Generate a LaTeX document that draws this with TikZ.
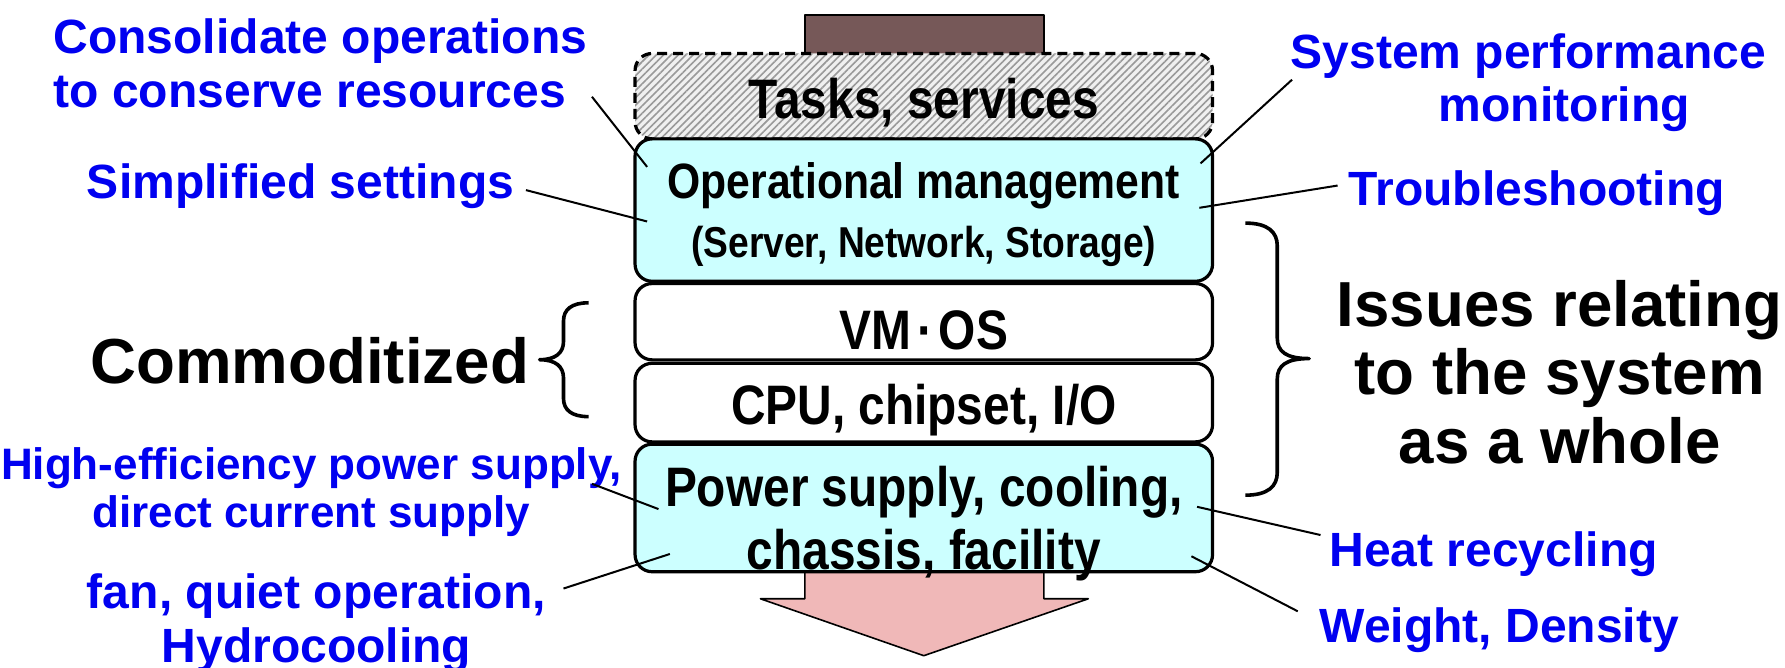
\documentclass[tikz,border=0pt]{standalone}
\usepackage{fontspec}
\setmainfont{Liberation Sans}
\usetikzlibrary{patterns.meta}
\definecolor{opcyan}{RGB}{204,255,255}
\definecolor{noteblue}{RGB}{0,0,240}
\definecolor{flowbrown}{RGB}{118,88,88}
\definecolor{flowpink}{RGB}{240,184,184}
\newcommand{\slim}[1]{\scalebox{0.86}[1]{#1}}

\begin{document}
\begin{tikzpicture}[x=0.01cm,y=-0.01cm,line join=round,
	    layer/.style={draw,line width=0.8pt,rounded corners=0.15cm,minimum width=5.07cm,
	                  align=center,inner sep=0pt,text depth=0pt,
	                  font=\fontsize{13.9}{14.2}\selectfont\bfseries},
	    ops/.style={layer,fill=opcyan},
	    plain/.style={layer,fill=white},
	    tasks/.style={layer,dash pattern=on 2.5pt off 1.5pt,preaction={fill=gray!12},
	                  pattern={Lines[angle=45,distance=1.3pt,line width=0.4pt]},pattern color=gray!80},
	    note/.style={text=noteblue,inner sep=0pt,align=center,font=\fontsize{12}{13.4}\selectfont\bfseries},
	    big/.style={inner sep=0pt,align=center,font=\fontsize{15.9}{17.1}\selectfont\bfseries},
	    pointer/.style={line width=0.5pt},
	    bracket/.style={line width=0.9pt}]
	  \useasboundingbox (0,0) rectangle (1568,586);

	  % the flow behind the layers
	  \draw[fill=flowbrown,line width=0.4pt] (707,13) rectangle (917,70);
	  \draw[fill=flowpink,line width=0.4pt] (707,480) -- (707,526) -- (668,526) -- (811.5,576)
	        -- (956,526) -- (917,526) -- (917,480) -- cycle;

	  % layers
	  \node[tasks,minimum height=0.75cm,text height=0.40cm]	(tasks) at (811.5,84.5)	{\slim{Tasks, services}};
	  \node[ops,minimum height=1.25cm,font=\fontsize{12.4}{14.5}\selectfont\bfseries]
	                   (oper) [below of=tasks,node distance=1cm]
	                   {\slim{Operational management}\\[0.4pt]{\fontsize{10.8}{13}\selectfont\slim{(Server, Network, Storage)}}};
	  \node[plain,minimum height=0.67cm,text height=0.48cm]	(vmos) [below of=oper,node distance=0.98cm]	{\slim{VM\kern0.12em·\kern0.12em OS}};
	  \node[plain,minimum height=0.69cm,text height=0.38cm]	(cpu) [below of=vmos,node distance=0.71cm]	{\slim{CPU, chipset, I/O}};
	  \node[ops,minimum height=1.12cm,text height=1.08cm]	(power) [below of=cpu,node distance=0.925cm]
	                   {\slim{Power supply, cooling,}\\[1.5pt]\slim{chassis, facility}};

	  % braces
	  \draw[bracket] (517,266) .. controls (502,266) and (495,272) .. (495,282) -- (495,300)
	        .. controls (495,310) and (488,316) .. (474,316) .. controls (488,316) and (495,322) .. (495,332)
	        -- (495,350) .. controls (495,360) and (502,366) .. (517,366);
	  \draw[bracket] (1094,196) .. controls (1114,196) and (1122,204) .. (1122,216) -- (1122,297)
	        .. controls (1122,309) and (1130,315) .. (1150,315) .. controls (1130,315) and (1122,321) .. (1122,333)
	        -- (1122,415) .. controls (1122,427) and (1114,435) .. (1094,435);
	  \node[big]	(comm) at (272,317)		{Commoditized};
	  \node[big]	(issues) at (1370,327)	{Issues relating\\to the system\\as a whole};

	  % notes
	  \node[note,align=left]	(cons) at (281.5,55.5)	{Consolidate operations\\to conserve resources};
	  \node[note]	(simp) at (264,164)		{Simplified settings};
	  \node[note]	(sysp) at (1342.5,72.5)	{System performance\\\hspace*{1.5em}monitoring};
	  \node[note]	(trbl) at (1350,170)		{Troubleshooting};
	  \node[note,font=\fontsize{11}{12}\selectfont\bfseries]
	                (heff) at (273.5,432)	{High-efficiency power supply,\\direct current supply};
	  \node[note]	(fan) at (278,547.5)		{fan, quiet operation,\\Hydrocooling};
	  \node[note]	(heat) at (1312,487)		{Heat recycling};
	  \node[note]	(wght) at (1317,554)		{Weight, Density};

	  \coordinate (cons-end) at (520,85);
	  \coordinate (simp-end) at (462,167);
	  \coordinate (sysp-end) at (1135,70);
	  \coordinate (trbl-end) at (1175,163);
	  \coordinate (heff-end) at (520,425);
	  \coordinate (fan-end) at (495,517);
	  \coordinate (heat-end) at (1160,470);
	  \coordinate (wght-end) at (1140,537);

	  \path[pointer] (cons-end)	edge ([shift={(12,26)}]oper.north west)
	  		(simp-end)	edge ([shift={(12,10)}]oper.west)
	  		(sysp-end)	edge ([shift={(-12,23)}]oper.north east)
	  		(trbl-end)	edge ([shift={(-13,-2)}]oper.east)
	  		(heff-end)	edge ([shift={(22,1)}]power.west)
	  		(fan-end)	edge ([shift={(32,-17)}]power.south west)
	  		(heat-end)	edge ([shift={(-15,-1)}]power.east)
	  		(wght-end)	edge ([shift={(-20,-15)}]power.south east);
\end{tikzpicture}
\end{document}
